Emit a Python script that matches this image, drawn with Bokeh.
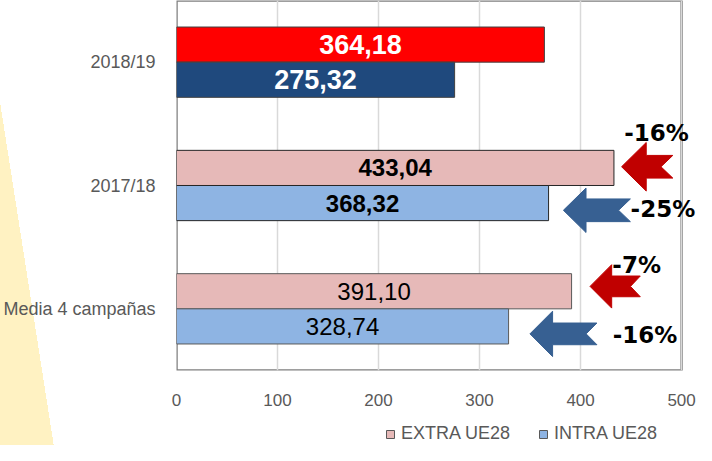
from bokeh.plotting import figure
from bokeh.layouts import column
from bokeh.models import (ColumnDataSource, FactorRange, Range1d, Legend, LegendItem,
                          Label, FixedTicker)
from bokeh.transform import dodge
from bokeh.core.properties import value
from bokeh.embed import file_html
from bokeh.resources import INLINE

# ---------------- data ----------------
categories = ["Media 4 campañas", "2017/18", "2018/19"]
extra_ue28 = [391.10, 433.04, 364.18]
intra_ue28 = [328.74, 368.32, 275.32]
x_ticks = [0, 100, 200, 300, 400, 500]
series_names = ["EXTRA UE28", "INTRA UE28"]
pct_labels = ["-16%", "-25%", "-7%", "-16%"]

# ---------------- styles ----------------
extra_colors = ["#E6B9B8", "#E6B9B8", "#FF0000"]
intra_colors = ["#8EB4E3", "#8EB4E3", "#1F497D"]
bar_line_colors = ["#595959", "#262626", "#404040"]
label_colors = ["#000000", "#000000", "#FFFFFF"]
label_styles = ["normal", "bold", "bold"]
label_sizes = ["24px", "24px", "27px"]
GRAY = "#595959"
FONT = "Liberation Sans"

BAR_H = 0.285
OFF = BAR_H / 2

# geometry (pixels)
FIG_W = 696
MAIN_H = 410
LEG_H = 35
FRAME_LEFT = 173
FRAME_W = FIG_W - FRAME_LEFT
PX_PER_UNIT = 508 / 500          # 0..500 spans 508 px
X_END = FRAME_W / PX_PER_UNIT     # frame extends a bit past 500 for the % labels


def fmt(v):
    return f"{v:.2f}".replace(".", ",")


src = ColumnDataSource(dict(
    cat=categories,
    extra=extra_ue28,
    intra=intra_ue28,
    extra_mid=[v / 2 for v in extra_ue28],
    intra_mid=[v / 2 for v in intra_ue28],
    extra_lbl=[fmt(v) for v in extra_ue28],
    intra_lbl=[fmt(v) for v in intra_ue28],
    ec=extra_colors,
    ic=intra_colors,
    lc=bar_line_colors,
    tc=label_colors,
    fs=label_styles,
    fsz=label_sizes,
))

p = figure(
    width=FIG_W, height=MAIN_H,
    y_range=FactorRange(factors=categories, range_padding=0, factor_padding=0),
    x_range=Range1d(0, X_END),
    output_backend="svg", toolbar_location=None,
    min_border_left=FRAME_LEFT, min_border_right=0, min_border_top=0, min_border_bottom=40,
)
p.background_fill_color = None
p.border_fill_color = None
p.outline_line_color = None

# grid
p.xgrid.ticker = FixedTicker(ticks=x_ticks)
p.xgrid.grid_line_color = "#D9D9D9"
p.xgrid.grid_line_width = 1.5
p.ygrid.grid_line_color = None

# axes
p.xaxis.ticker = FixedTicker(ticks=x_ticks)
p.xaxis.axis_line_color = None
p.xaxis.major_tick_line_color = None
p.xaxis.minor_tick_line_color = None
p.xaxis.major_label_text_font = FONT
p.xaxis.major_label_text_font_size = "17px"
p.xaxis.major_label_text_color = GRAY
p.xaxis.major_label_standoff = 17

p.yaxis.axis_line_color = None
p.yaxis.major_tick_line_color = None
p.yaxis.minor_tick_line_color = None
p.yaxis.major_label_text_font = FONT
p.yaxis.major_label_text_font_size = "18px"
p.yaxis.major_label_text_color = GRAY
p.yaxis.major_label_standoff = 15

# white plot area + border box spanning the axis range 0..500
p.quad(left=x_ticks[0], right=x_ticks[-1], bottom=0, top=len(categories),
       fill_color="white", line_color="#7F7F7F", line_width=2.5, level="underlay")

# bars
r_extra = p.hbar(y=dodge("cat", OFF, range=p.y_range), left=0, right="extra", height=BAR_H,
                 fill_color="ec", line_color="lc", line_width=1, source=src)
r_intra = p.hbar(y=dodge("cat", -OFF, range=p.y_range), left=0, right="intra", height=BAR_H,
                 fill_color="ic", line_color="lc", line_width=1, source=src)

# value labels
p.text(x="extra_mid", y=dodge("cat", OFF, range=p.y_range), text="extra_lbl", source=src,
       text_align="center", text_baseline="middle", text_font=value(FONT),
       text_font_size="fsz", text_font_style="fs", text_color="tc")
p.text(x="intra_mid", y=dodge("cat", -OFF, range=p.y_range), text="intra_lbl", source=src,
       text_align="center", text_baseline="middle", text_font=value(FONT),
       text_font_size="fsz", text_font_style="fs", text_color="tc")

# ---------------- annotation layout (arrows + percent labels) ----------------
# tip x, centre y, head length, total length, notch depth, head half-height, shaft half-height
arrows = [
    (440.6, 1.652, 24.4, 50.7, 11.7, 0.197, 0.092, "#C00000"),
    (383.0, 1.299, 22.4, 66.3, 11.7, 0.180, 0.092, "#376092"),
    (409.4, 0.682, 21.4, 49.7, 9.7, 0.176, 0.084, "#C00000"),
    (349.9, 0.297, 22.4, 66.3, 10.7, 0.184, 0.088, "#376092"),
]
axs, ays, acol = [], [], []
for tx, cy, lh, L, n, H, S, col in arrows:
    axs.append([tx, tx + lh, tx + lh, tx + L, tx + L - n, tx + L, tx + lh, tx + lh])
    ays.append([cy, cy + H, cy + S, cy + S, cy, cy - S, cy - S, cy - H])
    acol.append(col)
p.patches(xs=axs, ys=ays, fill_color=acol, line_color=acol, line_width=1)

pct_pos = [(475.1, 1.925), (481.5, 1.307), (455.5, 0.854), (463.9, 0.285)]
for txt, (lx, ly) in zip(pct_labels, pct_pos):
    p.add_layout(Label(x=lx, y=ly, text=txt, text_align="center", text_baseline="middle",
                       text_font="DejaVu Sans", text_font_style="bold", text_font_size="23px",
                       text_color="black"))

# ---------------- legend strip under the chart ----------------
leg = figure(
    width=FIG_W, height=LEG_H,
    y_range=FactorRange(factors=categories), x_range=Range1d(-2, -1),
    output_backend="svg", toolbar_location=None,
    x_axis_location=None, y_axis_location=None,
    min_border_left=0, min_border_right=0, min_border_top=0, min_border_bottom=0,
)
leg.background_fill_color = None
leg.border_fill_color = None
leg.outline_line_color = None
leg.grid.visible = False
# same bars (outside this strip's visible range) so the legend swatches come from the data
l_extra = leg.hbar(y="cat", left=0, right="extra", height=BAR_H,
                   fill_color="ec", line_color="lc", source=src)
l_intra = leg.hbar(y="cat", left=0, right="intra", height=BAR_H,
                   fill_color="ic", line_color="lc", source=src)

legend = Legend(
    items=[LegendItem(label=series_names[0], renderers=[l_extra], index=0),
           LegendItem(label=series_names[1], renderers=[l_intra], index=0)],
    location=(209, 1), orientation="horizontal",
    glyph_width=10, glyph_height=10, label_standoff=6, spacing=28,
    padding=0, margin=0, border_line_color=None, background_fill_alpha=0,
    label_text_font=FONT, label_text_font_size="18px", label_text_color=GRAY,
)
leg.add_layout(legend)

layout = column(p, leg, spacing=0)
# yellow slide decoration on the left (CSS background behind the transparent borders)
layout.styles = {"background": "linear-gradient(81.1deg, #FFF2C2 54.3px, rgba(255,255,255,0) 54.3px) "
                               "0 0 / 696px 453px no-repeat"}

open("out.html", "w").write(file_html(layout, INLINE))
